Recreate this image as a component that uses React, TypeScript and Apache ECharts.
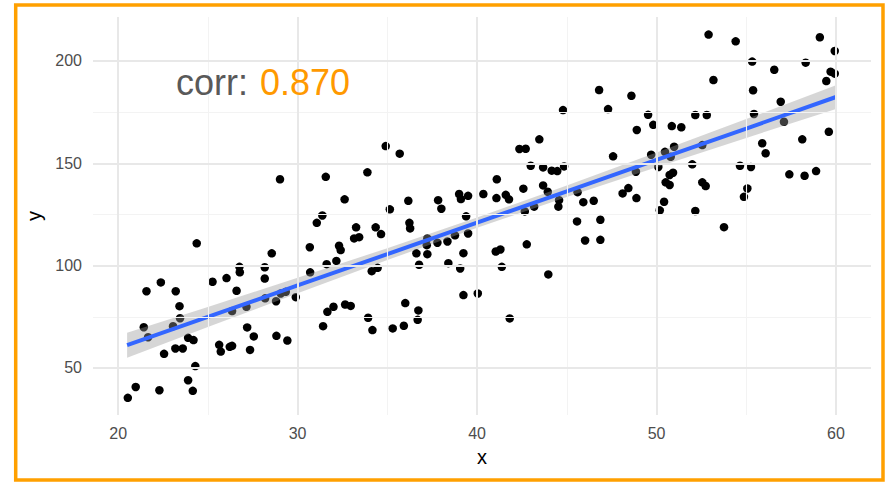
import React, { useEffect, useRef } from "react";
import * as echarts from "echarts";

const xValues = [
  24.38, 28.56, 21.58, 22.38, 23.21, 23.42, 23.45, 23.06, 21.43, 21.67,
  22.56, 23.19, 23.6, 23.9, 24.2, 24.3, 23.9, 24.16, 22.3, 20.98,
  20.54, 25.26, 26.04, 26.76, 26.78, 26.6, 26.35, 27.15, 27.19, 27.56,
  27.35, 25.63, 25.72, 26.22, 26.35, 28.17, 28.17, 28.19, 28.8, 29.06,
  29.34, 29.9, 28.82, 29.43, 29.02,
  30.68, 30.7, 31.07, 31.38, 31.57, 31.62, 32.16, 32.31, 32.4, 32.62,
  33.15, 33.43, 33.26, 33.89, 34.35, 34.65, 34.13, 34.46, 34.91, 35.14,
  35.69, 36.17, 36.23, 36.27, 36.62, 36.77, 37.23, 37.23, 37.79, 37.83,
  38.01, 38.35, 38.4, 38.77, 39.0, 39.1, 39.5, 39.39, 39.5, 39.24,
  39.06, 39.24, 40.04, 31.66, 32.0, 32.65, 32.96, 33.93, 31.42, 34.17,
  35.3, 35.92, 36.0, 36.73, 36.69, 37.2,
  40.35, 41.1, 41.08, 41.6, 41.78, 41.04, 41.3, 41.38, 41.82, 42.36,
  42.71, 42.58, 42.66, 42.77, 42.99, 43.18, 43.47, 43.68, 43.68, 43.94,
  43.97, 44.16, 44.47, 44.85, 44.79, 44.57, 44.53, 45.6, 45.57, 45.92,
  46.02, 46.5, 46.87, 46.87, 46.8, 47.3, 47.58, 48.11, 48.43, 48.88,
  48.6, 48.9, 48.85,
  49.53, 49.82, 49.7, 50.1, 50.18, 50.42, 50.51, 50.73, 50.47, 50.85,
  50.98, 50.79, 50.92, 50.73, 51.38, 51.99, 52.16, 52.16, 52.55, 52.55,
  52.74, 52.8, 52.9, 53.17, 53.76, 54.41, 54.65, 55.26, 54.87, 55.06,
  55.33, 55.38, 55.43, 55.89, 56.08, 56.56, 56.92, 57.1, 57.4, 58.12,
  58.31, 58.25, 58.89, 59.1, 59.46, 59.6, 59.7, 59.93, 59.93,
];

const yValues = [
  110.9, 106.0, 87.5, 91.8, 87.5, 80.2, 74.3, 70.4, 69.9, 65.0,
  56.9, 59.5, 59.5, 64.7, 63.6, 50.9, 44.0, 38.8, 39.1, 40.7,
  35.4, 92.1, 93.9, 99.4, 96.7, 87.7, 77.8, 79.9, 69.8, 65.4,
  58.8, 61.3, 58.0, 60.3, 60.8, 99.2, 93.7, 84.0, 82.6, 86.4,
  87.2, 84.6, 65.7, 63.4, 142.2,
  109.0, 96.7, 120.9, 124.5, 143.4, 100.7, 102.3, 109.7, 107.6, 132.4,
  113.3, 113.9, 118.7, 145.6, 118.7, 115.4, 97.3, 98.9, 158.4, 127.5,
  154.7, 131.7, 120.9, 118.2, 106.0, 100.4, 113.3, 105.6, 111.2, 132.0,
  127.8, 111.8, 101.2, 114.8, 135.0, 132.5, 134.1, 124.1, 115.7, 106.1,
  98.6, 85.6, 86.4, 77.4, 79.9, 81.0, 80.3, 74.5, 70.4, 68.5,
  69.3, 70.6, 81.7, 78.1, 73.5, 110.0,
  135.0, 142.2, 133.0, 134.6, 132.4, 106.9, 107.9, 99.4, 74.2, 157.0,
  157.1, 137.6, 126.5, 110.4, 148.8, 128.8, 161.7, 148.0, 139.2, 136.1,
  95.7, 146.4, 146.2, 148.5, 176.0, 132.0, 128.8, 135.9, 121.6, 131.0,
  112.3, 131.7, 122.4, 112.6, 185.8, 176.5, 153.4, 135.3, 137.9, 133.0,
  183.0, 166.3, 145.9,
  173.7, 168.8, 154.2, 148.2, 127.0, 131.2, 140.7, 139.4, 155.6, 168.2,
  158.1, 153.2, 145.4, 144.3, 167.6, 149.5, 173.6, 126.7, 158.9, 140.7,
  138.9, 173.6, 212.9, 190.7, 118.8, 209.6, 148.8, 148.2, 133.6, 137.7,
  199.7, 185.7, 174.1, 159.8, 154.9, 195.7, 180.1, 170.3, 144.6, 161.7,
  199.2, 143.9, 146.2, 211.6, 190.2, 165.4, 194.8, 193.8, 204.9,
];

// fitted line and confidence band
const fitX = [20.5, 25, 30, 35, 40, 45, 50, 55, 60];
const fitY = [61.1, 74.9, 90.3, 105.6, 121.0, 136.3, 151.7, 167.0, 182.4];
const bandLow = [55.0, 70.0, 86.5, 102.7, 118.5, 133.5, 148.1, 162.4, 176.6];
const bandHigh = [67.2, 79.8, 94.1, 108.5, 123.5, 139.1, 155.3, 171.6, 188.2];

const xTicks = [20, 30, 40, 50, 60];
const yTicks = [50, 100, 150, 200];
const xMinor = [25, 35, 45, 55];
const yMinor = [75, 125, 175];

const corrLabel = "corr:";
const corrValue = "0.870";

const FONT = "'Liberation Sans', Arial, Helvetica, sans-serif";

export default function App() {
  const ref = useRef<HTMLDivElement>(null);

  useEffect(() => {
    document.body.style.margin = "0";
    if (!ref.current) return;
    const chart = echarts.init(ref.current, null, { renderer: "svg" });

    const points = xValues.map((x, i) => [x, yValues[i]]);
    const line = fitX.map((x, i) => [x, fitY[i]]);

    const majorStyle = { color: "#e8e8e8", width: 2, type: "solid" as const };
    const minorStyle = { color: "#f3f3f3", width: 1.1, type: "solid" as const };

    chart.setOption({
      animation: false,
      backgroundColor: "#ffffff",
      grid: { left: 93, right: 14, top: 17, bottom: 67, containLabel: false },
      xAxis: {
        type: "value",
        min: 18.6,
        max: 61.95,
        name: "x",
        nameLocation: "middle",
        nameGap: 32,
        nameTextStyle: { color: "#000000", fontSize: 20, fontFamily: FONT },
        axisLine: { show: false },
        axisTick: { show: false },
        splitLine: { show: false },
        axisLabel: {
          customValues: xTicks,
          color: "#4d4d4d",
          fontSize: 16,
          fontFamily: FONT,
          margin: 10,
        },
      },
      yAxis: {
        type: "value",
        min: 27.0,
        max: 221.5,
        name: "y",
        nameLocation: "middle",
        nameGap: 46,
        nameRotate: 90,
        nameTextStyle: { color: "#000000", fontSize: 20, fontFamily: FONT },
        axisLine: { show: false },
        axisTick: { show: false },
        splitLine: { show: false },
        axisLabel: {
          customValues: yTicks,
          color: "#4d4d4d",
          fontSize: 16,
          fontFamily: FONT,
          margin: 11,
        },
      },
      series: [
        {
          type: "line",
          data: [],
          silent: true,
          z: 0,
          markLine: {
            silent: true,
            symbol: ["none", "none"],
            label: { show: false },
            animation: false,
            data: [
              ...xMinor.map((v) => ({ xAxis: v, lineStyle: minorStyle })),
              ...yMinor.map((v) => ({ yAxis: v, lineStyle: minorStyle })),
              ...xTicks.map((v) => ({ xAxis: v, lineStyle: majorStyle })),
              ...yTicks.map((v) => ({ yAxis: v, lineStyle: majorStyle })),
            ],
          },
        },
        {
          type: "scatter",
          data: points,
          symbol: "circle",
          symbolSize: 8.5,
          itemStyle: { color: "#000000", opacity: 1 },
          silent: true,
          z: 2,
        },
        {
          type: "custom",
          data: [[fitX[0], bandLow[0]]],
          silent: true,
          z: 3,
          renderItem: (params: any, api: any) => {
            const upper = fitX.map((x, i) => api.coord([x, bandHigh[i]]));
            const lower = fitX
              .map((x, i) => api.coord([x, bandLow[i]]))
              .reverse();
            return {
              type: "polygon",
              shape: { points: upper.concat(lower) },
              style: { fill: "rgba(153,153,153,0.4)", stroke: "none" },
            };
          },
          encode: { x: 0, y: 1 },
        },
        {
          type: "line",
          data: line,
          symbol: "none",
          lineStyle: { color: "#3366FF", width: 4 },
          silent: true,
          z: 4,
        },
      ],
      graphic: [
        {
          type: "rect",
          shape: { x: 15.7, y: 5, width: 867.3, height: 475 },
          style: { fill: "none", stroke: "#FFA000", lineWidth: 3.5 },
          silent: true,
          z: 10,
        },
        {
          type: "text",
          x: 176,
          y: 82,
          style: {
            text: corrLabel,
            fill: "#595959",
            fontSize: 36,
            fontFamily: FONT,
            textAlign: "left",
            textVerticalAlign: "middle",
          },
          z: 10,
        },
        {
          type: "text",
          x: 260,
          y: 82,
          style: {
            text: corrValue,
            fill: "#FF9900",
            fontSize: 36,
            fontFamily: FONT,
            textAlign: "left",
            textVerticalAlign: "middle",
          },
          z: 10,
        },
      ],
    });

    return () => chart.dispose();
  }, []);

  return <div ref={ref} style={{ width: 885, height: 482 }} />;
}
